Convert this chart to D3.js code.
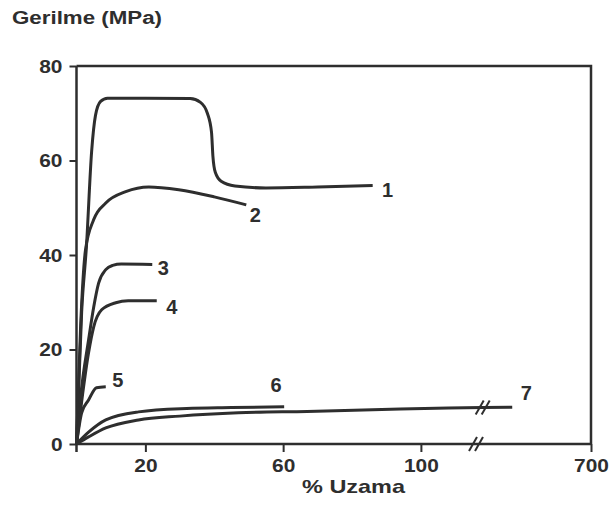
<!DOCTYPE html>
<html>
<head>
<meta charset="utf-8">
<script src="https://cdn.jsdelivr.net/npm/d3@7"></script>
<style>
  html, body { margin: 0; padding: 0; background: #fff; }
  svg { display: block; }
  text { font-family: "Liberation Sans", Arial, sans-serif; font-weight: bold; fill: #2e2e2e; }
</style>
</head>
<body>
<script>
// Data: [% uzama, gerilme MPa]
const curve1 = [[0,0],[1.5,28],[2.9,42],[4.4,62],[5.5,69.5],[7,72.5],[9,73.2],[20,73.2],[33,73.1],[36,72.3],[38,70],[39.2,66],[39.6,61],[40.3,57.5],[42,55.6],[46,54.6],[55,54.2],[70,54.4],[86,54.7]];
const curve2 = [[0,0],[1.2,25],[2.6,41],[5,47.5],[8.5,51],[14.3,53.4],[21,54.4],[29.7,53.8],[40,52.3],[49.3,50.6]];
const curve3 = [[0,0],[1.2,10],[3.5,22],[5,29],[6.4,34],[8.5,36.9],[10.5,37.8],[13,38.1],[22,38]];
const curve4 = [[0,0],[1.5,9],[3.5,19.3],[5,24.8],[7.3,28.4],[11.4,29.9],[15,30.3],[23.3,30.3]];
const curve5 = [[0,0],[1.5,6.6],[3.5,9.3],[5.8,11.9],[8.5,12.1]];
const curve6 = [[0,0],[3.5,2.5],[8.5,5.1],[18,6.8],[32,7.5],[45,7.7],[60.3,7.9]];
const curve7 = [[0,0],[3.5,1.5],[8.5,3.4],[18,5.1],[30,5.9],[47,6.6],[67,6.9],[94,7.4],[108,7.6],[150,7.7],[300,7.8]];

const curveNames = ["1", "2", "3", "4", "5", "6", "7"];
const xTicks = [20, 60, 100, 700];
const yTicks = [0, 20, 40, 60, 80];
const axisBreak = 116;     // % where the x axis is broken
const curveBreak = 150;    // % where curve 7 carries the break mark

// label offsets from each curve's last point (px)
const labelOffsets = [[15,4],[9,9.5],[11,3],[15,6],[12,-7],[-8,-22],[14,-14]];

const w = 612, h = 511;
const ink = "#2e2e2e";

const svg = d3.select("body").append("svg").attr("width", w).attr("height", h);

const x = d3.scaleLinear().domain([0, axisBreak, 700]).range([76.5, 476, 591]);
const y = d3.scaleLinear().domain([0, 80]).range([444, 66]);

// title
svg.append("text")
  .attr("x", 12).attr("y", 24)
  .style("font-size", "18px")
  .attr("textLength", 150).attr("lengthAdjust", "spacingAndGlyphs")
  .text("Gerilme (MPa)");

// frame: top and right sides
svg.append("path")
  .attr("d", `M${x(0)},${y(80)}H${x(700)}V${y(0)}`)
  .attr("fill", "none").attr("stroke", ink).attr("stroke-width", 2.5);

// y axis
const yAxis = d3.axisLeft(y).tickValues(yTicks).tickSize(7).tickPadding(7).tickSizeOuter(0);
const gy = svg.append("g").attr("transform", `translate(${x(0)},0)`).call(yAxis);
gy.select(".domain").remove();
gy.append("line")
  .attr("x1", 0).attr("x2", 0).attr("y1", y(80)).attr("y2", y(0) + 8)
  .attr("stroke", ink).attr("stroke-width", 2.5);

// x axis
const xAxis = d3.axisBottom(x).tickValues(xTicks).tickSize(8).tickPadding(5).tickSizeOuter(0);
const gx = svg.append("g").attr("transform", `translate(0,${y(0)})`).call(xAxis);
gx.select(".domain").remove();
gx.append("line")
  .attr("x1", x(0)).attr("x2", x(700)).attr("y1", 0).attr("y2", 0)
  .attr("stroke", ink).attr("stroke-width", 2.5);

[gx, gy].forEach((g) => {
  g.selectAll(".tick line").attr("stroke", ink).attr("stroke-width", 2);
  g.selectAll(".tick text")
    .style("font-size", "19px")
    .attr("fill", ink)
    .each(function () {
      this.setAttribute("textLength", this.getComputedTextLength() * 1.1);
      this.setAttribute("lengthAdjust", "spacingAndGlyphs");
    });
});
gx.selectAll(".tick text").attr("dy", "0.8em");

// x axis title
svg.append("text")
  .attr("x", 302).attr("y", 493)
  .style("font-size", "19px")
  .attr("textLength", 103).attr("lengthAdjust", "spacingAndGlyphs")
  .text("% Uzama");

// curves
const curves = [curve1, curve2, curve3, curve4, curve5, curve6, curve7];
const line = d3.line()
  .x((d) => x(d[0]))
  .y((d) => y(d[1]))
  .curve(d3.curveMonotoneX);

svg.selectAll(".curve")
  .data(curves)
  .enter()
  .append("path")
  .attr("class", "curve")
  .attr("d", line)
  .attr("fill", "none")
  .attr("stroke", ink)
  .attr("stroke-width", 3)
  .attr("stroke-linecap", "butt")
  .attr("stroke-linejoin", "round");

// curve labels
svg.selectAll(".curve-label")
  .data(curves)
  .enter()
  .append("text")
  .attr("class", "curve-label")
  .attr("x", (d, i) => x(d[d.length - 1][0]) + labelOffsets[i][0])
  .attr("y", (d, i) => y(d[d.length - 1][1]) + labelOffsets[i][1])
  .attr("text-anchor", "middle")
  .attr("dy", "0.36em")
  .style("font-size", "20px")
  .text((d, i) => curveNames[i]);

// break marks "//"
function breakMark(cx, cy) {
  [-3, 3].forEach((o) => {
    svg.append("line")
      .attr("x1", cx + o - 4).attr("y1", cy + 7)
      .attr("x2", cx + o + 4).attr("y2", cy - 7)
      .attr("stroke", ink).attr("stroke-width", 2);
  });
}
breakMark(x(axisBreak), y(0));
const c7 = curve7.find((d) => d[0] === curveBreak);
breakMark(x(c7[0]), y(c7[1]));
</script>
</body>
</html>
